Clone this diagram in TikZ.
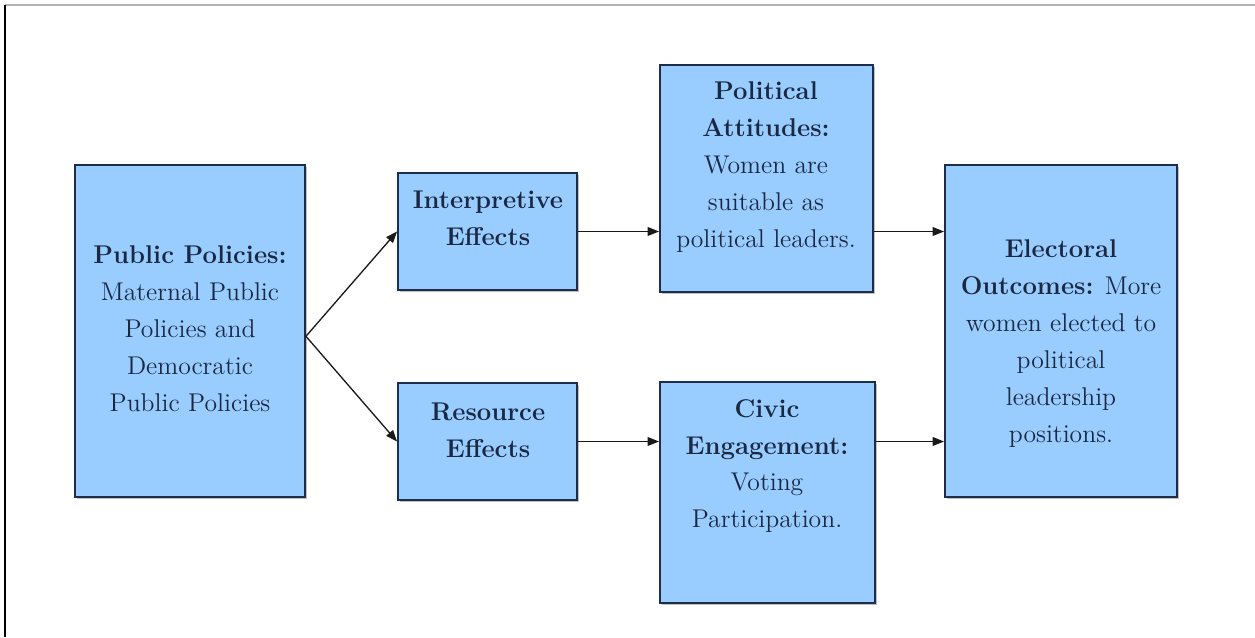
\documentclass[tikz,border=0pt]{standalone}
\usepackage{xcolor}
\definecolor{boxfill}{HTML}{99CCFF}
\definecolor{boxline}{HTML}{1E2D4A}
\definecolor{textcol}{HTML}{1A2842}
\usepackage{tikz}
\usetikzlibrary{arrows.meta, positioning, shadows, calc}

\tikzset{
  box/.style={draw=boxline, line width=1.1pt, fill=boxfill, inner sep=0pt,
    drop shadow={shadow xshift=1.3pt, shadow yshift=-1.3pt, fill=black!55, opacity=0.45}},
  boxtext/.style={align=center, text=textcol, inner sep=0pt, font=\fontsize{14.6}{21}\selectfont},
  arr/.style={-{Triangle[length=6.5pt, width=5pt]}, line width=0.75pt, black!90}
}

\begin{document}
\begin{tikzpicture}[x=0.02cm, y=-0.02cm]
  \useasboundingbox (0,0) rectangle (1255,637);

  % page frame
  \draw[line width=0.9pt, black!30] (5,5) -- (1255,5);
  \draw[line width=1.3pt, black] (5,5) -- (5,637);

  % boxes
  \node[box, minimum width=4.6cm, minimum height=6.64cm] (pubpol) at (190,331) {};
  \node[box, minimum width=3.58cm, minimum height=2.34cm] (interp) at (487.5,231.5) {};
  \node[box, minimum width=3.58cm, minimum height=2.34cm] (resource) at (487.5,441.5) {};
  \node[box, minimum width=4.26cm, minimum height=4.54cm] (attitudes) at (766.5,178.5) {};
  \node[box, minimum width=4.3cm, minimum height=4.42cm] (civic) at (767.5,492.5) {};
  \node[box, minimum width=4.64cm, minimum height=6.64cm] (electoral) at (1061,331) {};

  % texts
  \node[boxtext] (pubpol-t) at (190,329)
    {\textbf{Public Policies:}\\Maternal Public\\Policies and\\Democratic\\Public Policies};
  \node[boxtext] (interp-t) at (488,218.5) {\textbf{Interpretive}\\\textbf{Effects}};
  \node[boxtext] (resource-t) at (488,430.5) {\textbf{Resource}\\\textbf{Effects}};
  \node[boxtext] (attitudes-t) at (766,167)
    {\textbf{Political}\\\textbf{Attitudes:}\\Women are\\suitable as\\political leaders.};
  \node[boxtext] (civic-t) at (767,466)
    {\textbf{Civic}\\\textbf{Engagement:}\\Voting\\Participation.};
  \node[boxtext] (electoral-t) at (1061,343.5)
    {\textbf{Electoral}\\\textbf{Outcomes:} More\\women elected to\\political\\leadership\\positions.};

  % arrows
  \draw[arr] ([yshift=-3pt]pubpol.east) -- (interp.west);
  \draw[arr] ([yshift=-3pt]pubpol.east) -- (resource.west);
  \draw[arr] (interp.east) -- (interp.east -| attitudes.west);
  \draw[arr] (attitudes.east |- interp.east) -- (electoral.west |- interp.east);
  \draw[arr] (resource.east) -- (resource.east -| civic.west);
  \draw[arr] (civic.east |- resource.east) -- (electoral.west |- resource.east);
\end{tikzpicture}
\end{document}
